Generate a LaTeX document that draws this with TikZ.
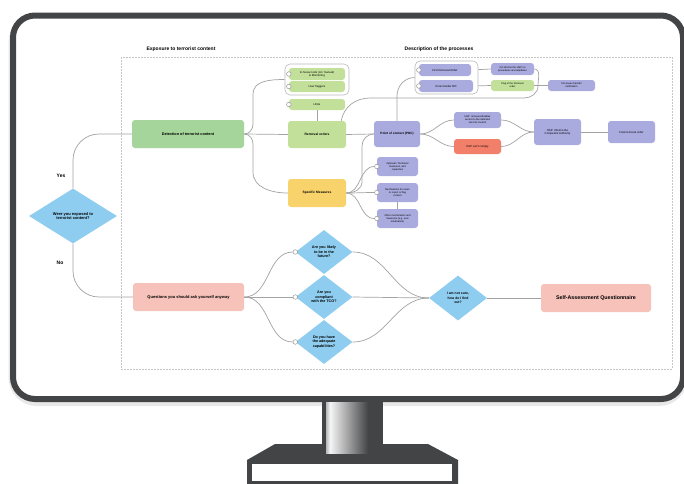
\documentclass[tikz,border=0pt]{standalone}
\usepackage{fontspec}
\setmainfont{Liberation Sans}
\usetikzlibrary{shapes.geometric}
\pgfdeclarelayer{background}
\pgfsetlayers{background,main}
\definecolor{frame}{HTML}{434446}
\definecolor{gDet}{HTML}{A6D59B}
\definecolor{gLight}{HTML}{C3E09B}
\definecolor{yel}{HTML}{F8D36B}
\definecolor{pur}{HTML}{A9AADD}
\definecolor{sal}{HTML}{F27F69}
\definecolor{pnk}{HTML}{F6C2BA}
\definecolor{dia}{HTML}{8FCDF0}
\definecolor{lnc}{HTML}{A3A3A3}
\begin{document}
\begin{tikzpicture}[x=1pt,y=1pt,
  box/.style={rectangle, rounded corners=3pt, inner sep=0.5pt, align=center, text=black},
  tiny/.style={font=\fontsize{2.8}{3.3}\selectfont},
  tinier/.style={font=\fontsize{2.5}{3}\selectfont},
  small/.style={font=\fontsize{3.3}{3.9}\selectfont\bfseries},
  mid/.style={font=\fontsize{4}{4.7}\selectfont\bfseries},
  diam/.style={diamond, fill=dia, inner sep=0pt, align=center, font=\fontsize{3.7}{4.4}\selectfont\bfseries},
  grp/.style={rectangle, rounded corners=5pt, draw=gray!55, line width=0.6pt, fill=white},
  dot/.style={circle, draw=gray!80, fill=white, inner sep=0pt, minimum size=4.6pt, line width=0.5pt},
  conn/.style={draw=lnc, line width=0.7pt},
  hdr/.style={font=\fontsize{5}{6}\selectfont\bfseries},
  lbl/.style={font=\fontsize{5}{6}\selectfont\bfseries},
]
\useasboundingbox (0,0) rectangle (684,-483);

\begin{pgfonlayer}{background}
\fill[white] (0,0) rectangle (684,-483);
% ---------- monitor ----------
\draw[line width=9pt, black!9, rounded corners=24pt] (13,-18) rectangle (683,-401.5);
\draw[line width=6pt, frame, rounded corners=22pt, fill=white] (13,-15.5) rectangle (683,-399);
\fill[frame] (275,-444) -- (428,-444) -- (458,-460) -- (458,-485) -- (247,-485) -- (247,-460) -- cycle;
\fill[white] (252,-464) rectangle (452,-480.7);
\fill[frame] (322,-402) rectangle (383,-453);
\shade[left color=gray!55, right color=gray!8] (326,-402) rectangle (330,-453);
\shade[left color=gray!8, right color=frame] (330,-402) rectangle (368,-453);
\fill[frame] (368,-402) rectangle (377,-453);
% ---------- diagram frame ----------
\draw[gray!45, line width=0.5pt, dash pattern=on 2pt off 1pt] (121,-57) rectangle (672,-369);
\end{pgfonlayer}

\node[hdr] (h1) at (181,-49) {Exposure to terrorist content};
\node[hdr] (h2) at (439,-49) {Description of the processes};

% ---------- left ----------
\node[diam, minimum width=88pt, minimum height=55pt, font=\fontsize{4}{4.8}\selectfont\bfseries] (expo) at (73,-216) {Were you exposed to\\terrorist content?};
\node[lbl] (yes) at (61,-176) {Yes};
\node[lbl] (no) at (60,-263) {No};
\node[box, fill=gDet, minimum width=112pt, minimum height=28pt, font=\fontsize{3.8}{4.5}\selectfont\bfseries] (det) at (188,-134) {Detection of terrorist content};
\node[box, fill=pnk, minimum width=111pt, minimum height=28pt, mid] (ques) at (188.5,-297) {Questions you should ask yourself anyway};

% ---------- upper middle ----------
\node[grp, minimum width=64pt, minimum height=31pt] (group1) at (317,-79.5) {};
\node[box, fill=gLight, minimum width=56pt, minimum height=12pt, tiny] (inhouse) at (317,-74) {In-house tools (AI / manual)\\\& Monitoring};
\node[box, fill=gLight, minimum width=56pt, minimum height=11pt, tiny] (users) at (317,-86.5) {User flaggers};
\node[box, fill=gLight, minimum width=56pt, minimum height=11pt, tiny] (leas) at (317,-104.5) {LEAs};
\node[box, fill=gLight, minimum width=58pt, minimum height=27pt, small] (removal) at (317,-134.5) {Removal orders};
\node[box, fill=yel, minimum width=58pt, minimum height=28pt, small] (specific) at (317,-193) {Specific Measures};
\node[dot] (dinhouse) at (inhouse.west) {};
\node[dot] (dusers) at (users.west) {};
\node[dot] (dleas) at (leas.west) {};

\node[box, fill=pur, minimum width=46pt, minimum height=26pt, font=\fontsize{3.1}{3.7}\selectfont\bfseries] (poc) at (397,-134) {Point of contact (POC)};

\node[grp, minimum width=63pt, minimum height=33pt] (group2) at (446.5,-77.5) {};
\node[box, fill=pur, minimum width=52pt, minimum height=12pt, tiny] (firstro) at (445,-70) {First Removal Order};
\node[box, fill=pur, minimum width=54pt, minimum height=12pt, tiny] (crossro) at (446,-86) {Cross border RO};
\node[dot] (dfirst) at (firstro.west) {};
\node[dot] (dcross) at (crossro.west) {};
\node[box, fill=pur, minimum width=43pt, minimum height=12pt, tinier] (cainf) at (512.5,-69) {CA informs the HSP on\\procedures and deadlines};
\node[box, fill=gLight, minimum width=43pt, minimum height=11pt, tinier] (flag) at (512.5,-85.5) {Flag of the Removal\\order};
\node[box, fill=pur, minimum width=47pt, minimum height=11pt, tinier] (catrans) at (571.5,-85.5) {CA issues transfer\\notification};

\node[box, fill=pur, minimum width=47pt, minimum height=16pt, tinier] (hspr) at (477.5,-120) {HSP: removes/disables\\access to the detected\\terrorist content};
\node[box, fill=sal, minimum width=47pt, minimum height=15pt, tiny] (hspc) at (477.5,-146.5) {HSP can't comply};
\node[box, fill=pur, minimum width=47pt, minimum height=26pt, tiny] (hspi) at (557.5,-132) {HSP: informs the\\Competent Authority};
\node[box, fill=pur, minimum width=47pt, minimum height=22pt, tiny] (final) at (631.5,-132) {Final removal order};

\node[box, fill=pur, minimum width=41pt, minimum height=19pt, tinier] (opt) at (397.5,-166.5) {Optional / Technical\\measures, and\\capacities};
\node[box, fill=pur, minimum width=41pt, minimum height=19pt, tinier] (mech) at (397.5,-192.5) {Mechanisms for users\\to report or flag\\content};
\node[box, fill=pur, minimum width=41pt, minimum height=19pt, tinier] (other) at (397.5,-218.5) {Other mechanisms and\\measures (e.g. user\\moderation)};
\node[dot] (dopt) at (opt.west) {};
\node[dot] (dmech) at (mech.west) {};
\node[dot] (dother) at (other.west) {};

% ---------- lower ----------
\node[diam, minimum width=57pt, minimum height=44pt] (q1) at (324,-252) {Are you likely\\to be in the\\future?};
\node[diam, minimum width=57pt, minimum height=44pt] (q2) at (324,-297) {Are you\\compliant\\with the TCO?};
\node[diam, minimum width=57pt, minimum height=44pt] (q3) at (324,-342) {Do you have\\the adequate\\capabilities?};
\node[dot] (dq1) at (q1.west) {};
\node[dot] (dq2) at (q2.west) {};
\node[dot] (dq3) at (q3.west) {};
\node[diam, minimum width=58pt, minimum height=45pt, font=\fontsize{3.4}{4.3}\selectfont\bfseries] (unsure) at (458,-298) {I am not sure,\\how do I find\\out?};
\node[box, fill=pnk, minimum width=110pt, minimum height=28pt, font=\fontsize{5.3}{6}\selectfont\bfseries] (saq) at (596,-298) {Self-Assessment Questionnaire};

% ---------- connectors ----------
\begin{pgfonlayer}{background}
\draw[conn, rounded corners=26pt] (expo.north) |- (det.west);
\draw[conn, rounded corners=26pt] (expo.south) |- (ques.west);
\draw[conn] (det.east) to[out=0,in=-90] (253,-124) -- (253,-94) to[out=90,in=180] (group1.west);
\draw[conn] (det.east) -- (removal.west);
\draw[conn] (det.east) to[out=0,in=90] (253,-144) -- (253,-172) to[out=-90,in=180] (specific.west);
\draw[conn] (leas.south) -- (removal.north);
\draw[conn] (removal.east) -- (poc.west);
\draw[conn] ([xshift=-5pt]removal.north east) to[out=80,in=180] (370,-98) -- (524,-98) to[out=0,in=-90] (538,-86) to[out=90,in=0] (cainf.east);
\draw[conn] (poc.north) -- (397,-96) to[out=90,in=180] (group2.west);
\draw[conn] (firstro.east) -- (cainf.west);
\draw[conn] (crossro.east) -- (flag.west);
\draw[conn] (flag.east) -- (catrans.west);
\draw[conn] (poc.east) to[out=0,in=180] (hspr.west);
\draw[conn] (poc.east) to[out=0,in=180] (hspc.west);
\draw[conn] (hspr.east) to[out=0,in=180] (hspi.west);
\draw[conn] (hspc.east) to[out=0,in=180] (hspi.west);
\draw[conn] (hspi.east) -- (final.west);
\draw[conn] (specific.east) to[out=0,in=180] (dopt.west);
\draw[conn] (specific.east) to[out=0,in=180] (dmech.west);
\draw[conn] (specific.east) to[out=0,in=180] (dother.west);
\draw[conn] (specific.east) to[out=0,in=-90] (362,-182) -- (362,-146) to[out=90,in=180] (poc.west);
\draw[conn] (mech.south) -- (other.north);
\draw[conn] (ques.east) to[out=0,in=180] (dq1.west);
\draw[conn] (ques.east) -- (dq2.west);
\draw[conn] (ques.east) to[out=0,in=180] (dq3.west);
\draw[conn] (q1.east) to[out=0,in=180] (unsure.west);
\draw[conn] (q2.east) -- (unsure.west);
\draw[conn] (q3.east) to[out=0,in=180] (unsure.west);
\draw[conn] (unsure.east) -- (saq.west);
\end{pgfonlayer}
\end{tikzpicture}
\end{document}
